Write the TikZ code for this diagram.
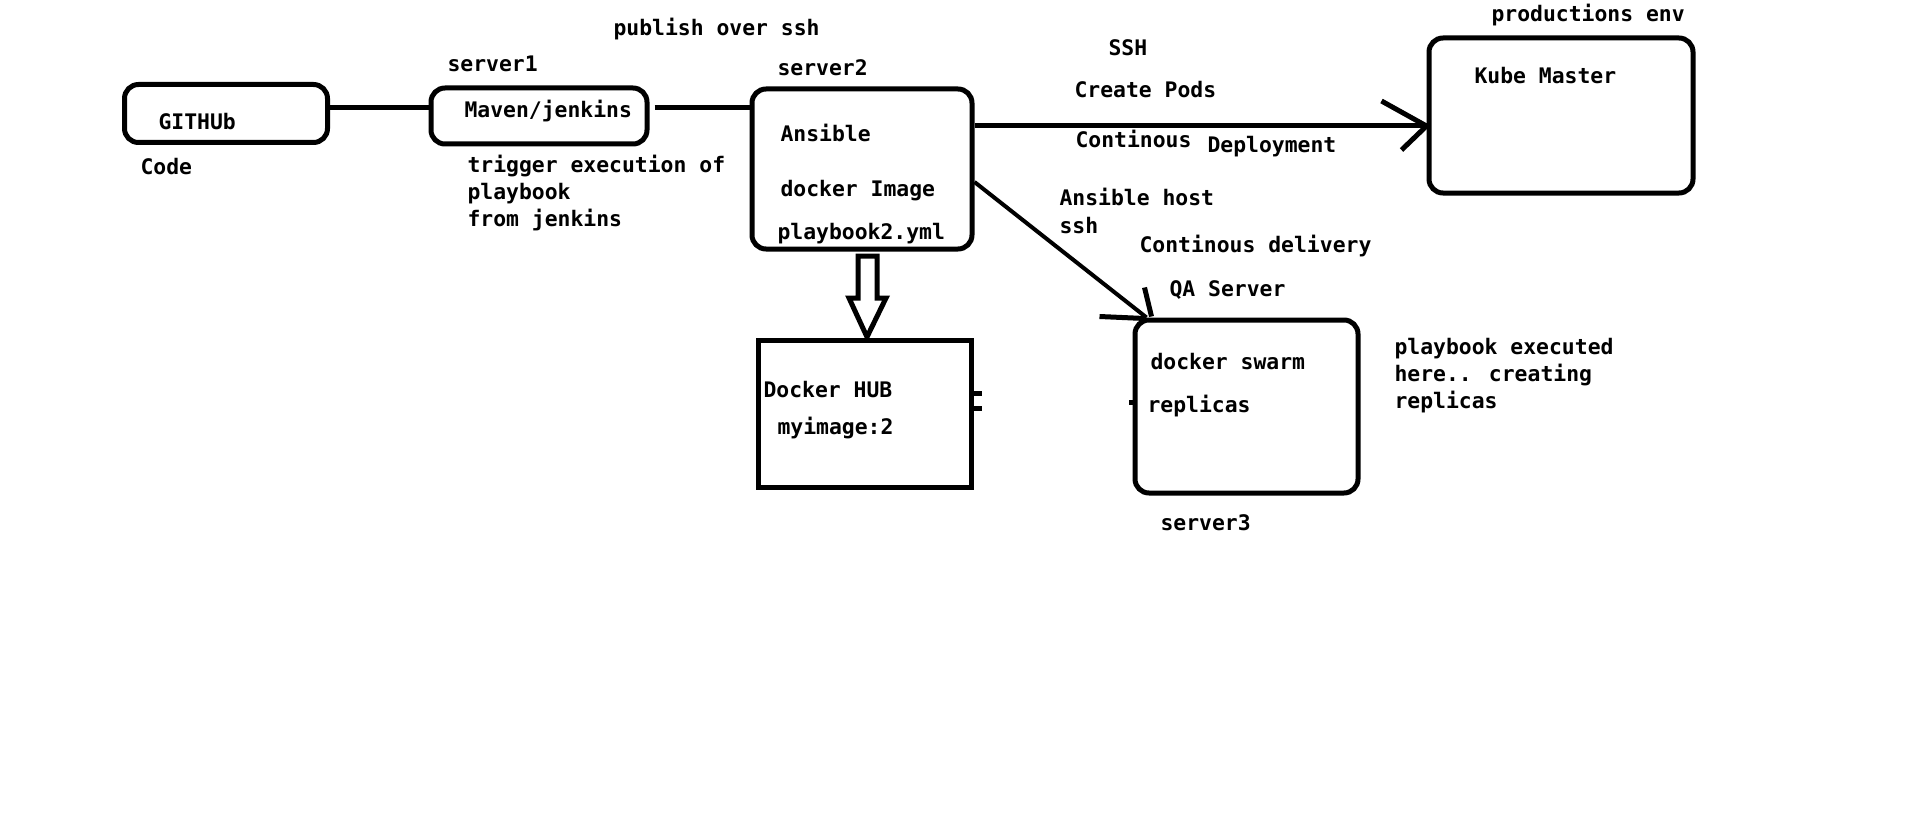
\documentclass[tikz,border=0pt]{standalone}
\usepackage{fontspec}
\newfontfamily\paintfont{DejaVu Sans Mono}
\begin{document}
\begin{tikzpicture}[x=1pt,y=-1pt,line width=5pt,
  txt/.style={font=\paintfont\bfseries\fontsize{21.4}{27}\selectfont,anchor=base west,inner sep=0pt},
  rbox/.style={draw,rounded corners=14pt,inner sep=0pt},
  sbox/.style={draw,inner sep=0pt}]
\useasboundingbox (0,0) rectangle (1909,824);
% boxes
\node[rbox,minimum width=203pt,minimum height=58pt] (gh) at (226,113.5) {};
\node[rbox,minimum width=216pt,minimum height=56pt] (mv) at (539,116) {};
\node[rbox,minimum width=220pt,minimum height=160pt] (s2) at (862,169) {};
\node[rbox,minimum width=264pt,minimum height=155pt] (kb) at (1561,115.5) {};
\node[rbox,minimum width=223pt,minimum height=173pt] (qa) at (1246.5,406.5) {};
\node[sbox,minimum width=213pt,minimum height=147pt] (dh) at (865,414) {};
% texts
\node[txt] (tpub) at (611,36) {publish over ssh};
\node[txt] (ts1) at (445,72) {server1};
\node[txt] (tgh) at (156,130) {GITHUb};
\node[txt] (tmv) at (462,118) {Maven/jenkins};
\node[txt] (tcode) at (138,175) {Code};
\node[txt] (ttr1) at (465,172) {trigger execution of};
\node[txt] (ttr2) at (465,199) {playbook};
\node[txt] (ttr3) at (465,226) {from jenkins};
\node[txt] (ts2) at (775,76) {server2};
\node[txt] (tans) at (778,142) {Ansible};
\node[txt] (tdi) at (778,196) {docker Image};
\node[txt] (tpb) at (775,239) {playbook2.yml};
\node[txt] (tssh) at (1106,56) {SSH};
\node[txt] (tcp) at (1072,98) {Create Pods};
\node[txt] (tcon) at (1073,148) {Continous};
\node[txt] (tdep) at (1205,153) {Deployment};
\node[txt] (tprod) at (1489,22) {productions env};
\node[txt] (tkm) at (1472,84) {Kube Master};
\node[txt] (tah) at (1057,205) {Ansible host};
\node[txt] (tssh2) at (1057,233) {ssh};
\node[txt] (tcd) at (1137,252) {Continous delivery};
\node[txt] (tqa) at (1167,296) {QA Server};
\node[txt] (tds) at (1148,369) {docker swarm};
\node[txt] (trep) at (1145,412) {replicas};
\node[txt] (tdh) at (761,397) {Docker HUB};
\node[txt] (tmi) at (775,434) {myimage:2};
\node[txt] (tpe1) at (1392,354) {playbook executed};
\node[txt] (tpe2) at (1392,381) {here.. creating};
\node[txt] (tpe3) at (1392,408) {replicas};
\node[txt] (ts3) at (1158,530) {server3};
% connectors
\draw (gh.east |- 0,108) -- (mv.west |- 0,108);
\draw ([xshift=5pt]mv.east |- 0,108) -- (s2.west |- 0,108);
\coordinate (kh) at (kb.west |- 0,126);
\draw (s2.east |- kh) -- (kh);
\draw ([shift={(-45,-25)}]kh) -- (kh) -- ([shift={(-25,24)}]kh);
\coordinate (qh) at ([xshift=14pt]qa.north west);
\draw[line width=4pt] (s2.east |- 0,182) -- (qh);
\draw ([shift={(-2,-30)}]qh) -- ([shift={(5,-1)}]qh);
\draw ([shift={(-47,-1)}]qh) -- ([shift={(-2,1)}]qh);
% hollow block arrow server2 -> Docker HUB
\draw[line join=miter] (858,256) -- (877,256) -- (877,298) -- (886,298) -- (867,337) -- (849,298) -- (858,298) -- cycle;
% small marks
\draw (dh.east |- 0,393) -- ++(8,0);
\draw (dh.east |- 0,408) -- ++(8,0);
\draw (qa.west |- 0,402) -- ++(-4,0);
\end{tikzpicture}
\end{document}
